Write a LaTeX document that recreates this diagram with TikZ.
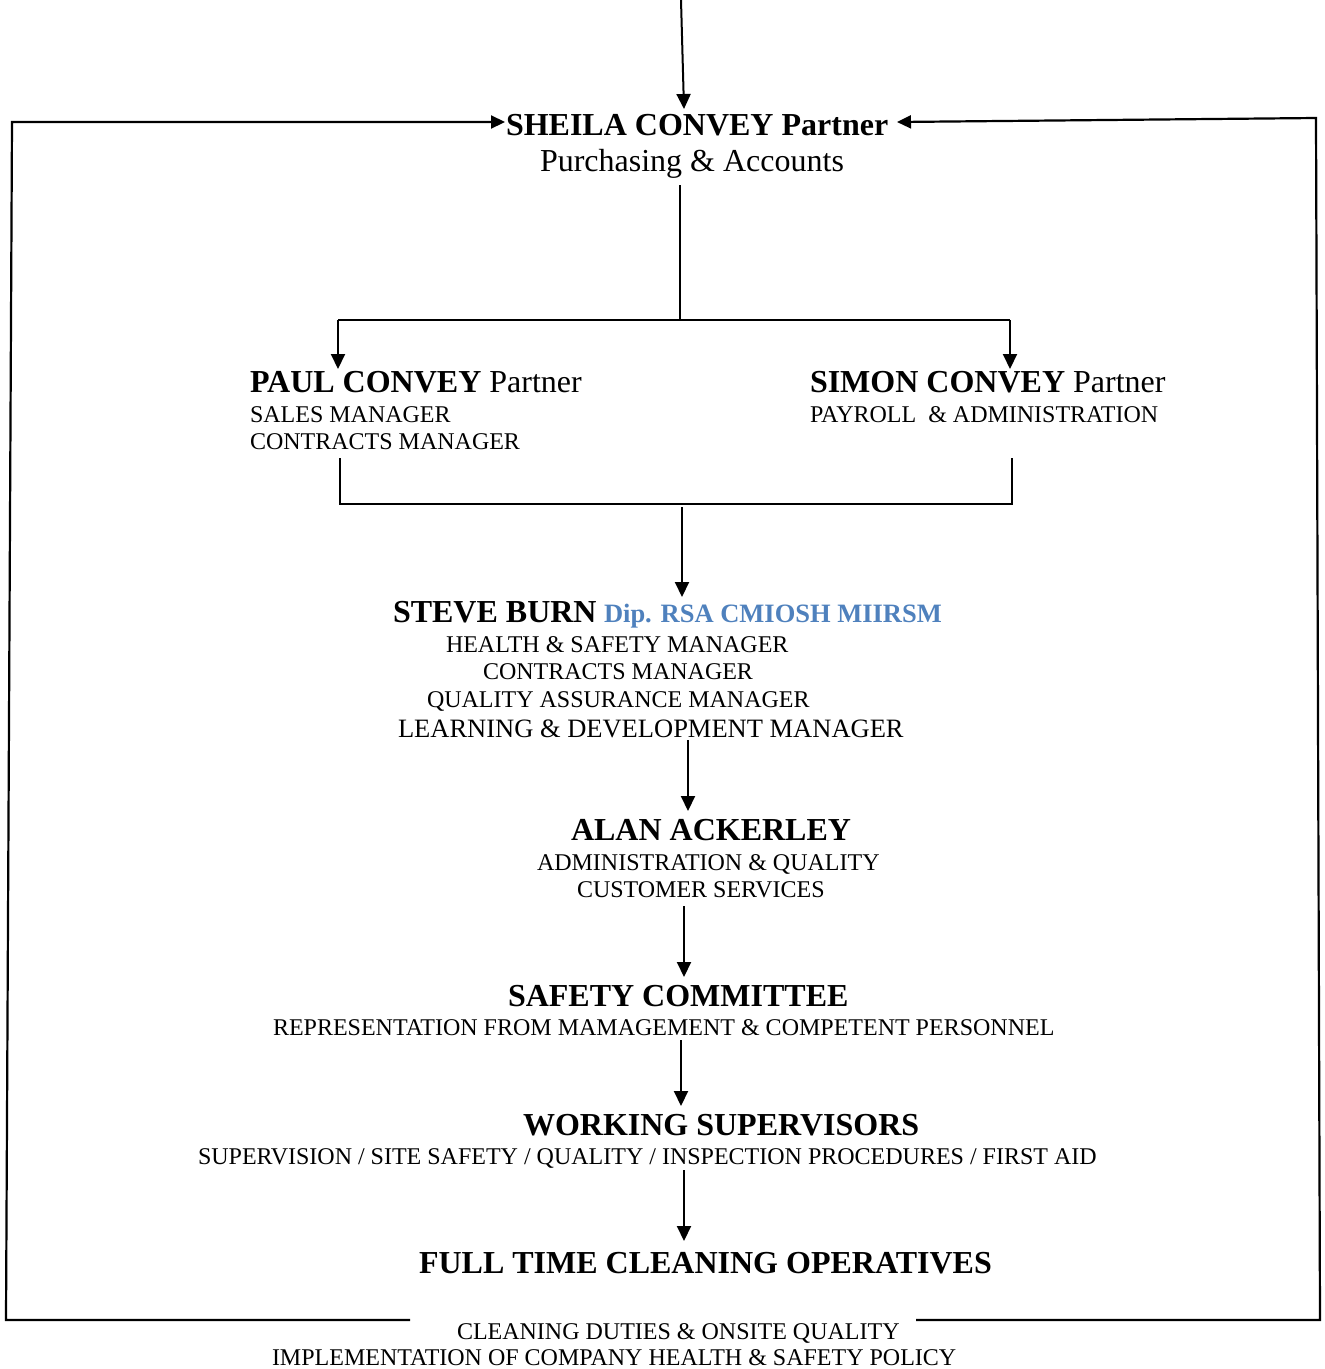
\documentclass[tikz,border=0pt]{standalone}
\usepackage{fontspec}
\setmainfont{Liberation Serif}
\usetikzlibrary{arrows.meta}
\definecolor{qualblue}{RGB}{79,129,189}
\tikzset{
  txt/.style={inner sep=0pt, outer sep=0pt, anchor=base west, font=\fontsize{24}{28}\selectfont},
  txtl/.style={txt, font=\fontsize{26.5}{30}\selectfont},
  big/.style={txt, font=\fontsize{32}{38}\selectfont},
  bigb/.style={txt, font=\fontsize{32}{38}\selectfont\bfseries},
  conn/.style={line width=2pt},
  frame/.style={line width=2.2pt},
  arr/.style={conn, -{Triangle[length=15pt,width=14pt]}},
  farr/.style={frame, -{Triangle[length=14pt,width=13pt]}},
}
\begin{document}
\begin{tikzpicture}[x=1pt,y=-1pt]
\useasboundingbox (0,0) rectangle (1325,1369);
% text blocks
\node[bigb] (sheila) at (506,135) {SHEILA CONVEY Partner};
\node[big] (sheilaR) at (540,171) {Purchasing \& Accounts};
\node[big] (paul) at (250,392) {\textbf{PAUL CONVEY} Partner};
\node[txt] (paul1) at (250,422) {SALES MANAGER};
\node[txt] (paul2) at (250,449) {CONTRACTS MANAGER};
\node[big] (simon) at (810,392) {\textbf{SIMON CONVEY} Partner};
\node[txt] (simon1) at (810,422) {PAYROLL\ \ \& ADMINISTRATION};
\node[bigb] (steve) at (393,622) {STEVE BURN};
\node[txtl, font=\fontsize{26.5}{30}\selectfont\bfseries, text=qualblue] (quals) at (604,622) {Dip. RSA CMIOSH MIIRSM};
\node[txt] (steve1) at (446,652) {HEALTH \& SAFETY MANAGER};
\node[txt] (steve2) at (483,679) {CONTRACTS MANAGER};
\node[txt] (steve3) at (427,707) {QUALITY ASSURANCE MANAGER};
\node[txtl] (steve4) at (398,737) {LEARNING \& DEVELOPMENT MANAGER};
\node[bigb] (alan) at (571,840) {ALAN ACKERLEY};
\node[txt] (alan1) at (537,870) {ADMINISTRATION \& QUALITY};
\node[txt] (alan2) at (577,897) {CUSTOMER SERVICES};
\node[bigb] (comm) at (508,1006) {SAFETY COMMITTEE};
\node[txt] (comm1) at (273,1035) {REPRESENTATION FROM MAMAGEMENT \& COMPETENT PERSONNEL};
\node[bigb] (sup) at (523,1135) {WORKING SUPERVISORS};
\node[txt] (sup1) at (198,1164) {SUPERVISION / SITE SAFETY / QUALITY / INSPECTION PROCEDURES / FIRST AID};
\node[bigb] (ops) at (419,1273) {FULL TIME CLEANING OPERATIVES};
\node[txt] (ops1) at (457,1339) {CLEANING DUTIES \& ONSITE QUALITY};
\node[txt] (ops2) at (272,1365) {IMPLEMENTATION OF COMPANY HEALTH \& SAFETY POLICY};
% junction coordinates
\coordinate (topin) at (681,0);
\coordinate (sheilaTop) at (684,109);
\coordinate (sheilaL) at (505,122);
\coordinate (sheilaRt) at (897,122);
\coordinate (fTL) at (12,122);
\coordinate (fBL) at (6,1320);
\coordinate (fBLend) at (410,1320);
\coordinate (fTR) at (1316,118);
\coordinate (fBR) at (1320,1320);
\coordinate (fBRend) at (916,1320);
\coordinate (sheilaBot) at (680,185);
\coordinate (split) at (680,320);
\coordinate (splitL) at (338,320);
\coordinate (splitR) at (1010,320);
\coordinate (paulTop) at (338,369);
\coordinate (simonTop) at (1010,369);
\coordinate (paulBot) at (340,458);
\coordinate (joinL) at (340,504);
\coordinate (joinR) at (1012,504);
\coordinate (simonBot) at (1012,458);
\coordinate (joinOut) at (682,507);
\coordinate (steveTop) at (682,597);
\coordinate (steveBot) at (688,740);
\coordinate (alanTop) at (688,811);
\coordinate (alanBot) at (684,906);
\coordinate (commTop) at (684,977);
\coordinate (commBot) at (681,1040);
\coordinate (supTop) at (681,1106);
\coordinate (supBot) at (684,1170);
\coordinate (opsTop) at (684,1241);
% connectors
\draw[arr] (topin) -- (sheilaTop);
\draw[farr] (fBLend) -- (fBL) -- (fTL) -- (sheilaL);
\draw[farr] (fBRend) -- (fBR) -- (fTR) -- (sheilaRt);
\draw[conn] (sheilaBot) -- (split);
\draw[conn] (splitL) -- (splitR);
\draw[arr] (splitL) -- (paulTop);
\draw[arr] (splitR) -- (simonTop);
\draw[conn] (paulBot) -- (joinL) -- (joinR) -- (simonBot);
\draw[arr] (joinOut) -- (steveTop);
\draw[arr] (steveBot) -- (alanTop);
\draw[arr] (alanBot) -- (commTop);
\draw[arr] (commBot) -- (supTop);
\draw[arr] (supBot) -- (opsTop);
\end{tikzpicture}
\end{document}
